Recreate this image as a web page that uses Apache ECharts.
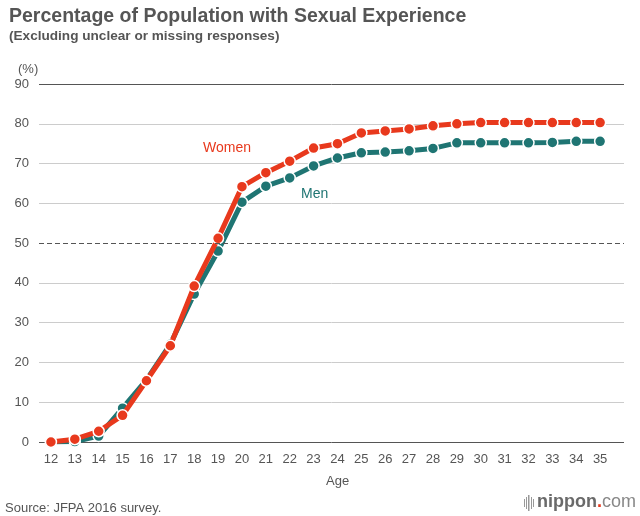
<!DOCTYPE html>
<html>
<head>
<meta charset="utf-8">
<script src="https://cdn.jsdelivr.net/npm/echarts@6/dist/echarts.min.js"></script>
<style>
html,body{margin:0;padding:0;background:#fff;}
#chart{width:640px;height:516px;}
</style>
</head>
<body>
<div id="chart"></div>
<script>
const ages = [12,13,14,15,16,17,18,19,20,21,22,23,24,25,26,27,28,29,30,31,32,33,34,35];
const women = [0,0.7,2.7,6.7,15.4,24.2,39.2,51.2,64.2,67.7,70.6,73.9,75.0,77.7,78.2,78.7,79.5,80.0,80.3,80.3,80.3,80.3,80.3,80.3];
const men = [0,0.1,1.5,8.5,15.6,24.6,37.2,48.0,60.3,64.3,66.4,69.4,71.4,72.7,72.9,73.2,73.8,75.2,75.2,75.2,75.2,75.3,75.6,75.6];
const yTicks = [0,10,20,30,40,50,60,70,80,90];

const RED = '#e8391d';
const TEAL = '#1f7573';
const GRAY = '#555555';
const FONT = '"Liberation Sans", Arial, Helvetica, sans-serif';

const chart = echarts.init(document.getElementById('chart'));
const pairs = arr => ages.map((a, i) => [a, arr[i]]);

chart.setOption({
  animation: false,
  backgroundColor: '#fff',
  textStyle: { fontFamily: FONT },
  title: {
    text: 'Percentage of Population with Sexual Experience',
    subtext: '(Excluding unclear or missing responses)',
    left: 4, top: 2, itemGap: 2,
    textStyle: { fontFamily: FONT, fontSize: 19.5, fontWeight: 'bold', color: GRAY },
    subtextStyle: { fontFamily: FONT, fontSize: 13.6, fontWeight: 'bold', color: GRAY }
  },
  grid: { left: 39, right: 16, top: 84, bottom: 74, containLabel: false },
  xAxis: {
    type: 'value', min: 11.5, max: 36,
    axisLine: { show: false }, axisTick: { show: false },
    splitLine: { show: false },
    axisLabel: { customValues: ages, color: GRAY, fontSize: 13, margin: 11, fontFamily: FONT }
  },
  yAxis: {
    type: 'value', min: 0, max: 90, interval: 10,
    axisLine: { show: false }, axisTick: { show: false },
    axisLabel: { color: GRAY, fontSize: 13, margin: 10, fontFamily: FONT },
    splitLine: {
      show: true,
      lineStyle: {
        width: 1,
        color: yTicks.map(v => (v === 0 || v === 90) ? GRAY : (v === 50 ? 'rgba(0,0,0,0)' : '#cccccc'))
      }
    }
  },
  series: [
    {
      name: 'Men', type: 'line', data: pairs(men),
      symbol: 'circle', symbolSize: 11,
      lineStyle: { color: TEAL, width: 5 },
      itemStyle: { color: TEAL, borderColor: '#fff', borderWidth: 1.5 },
      z: 3,
      markLine: {
        silent: true, symbol: 'none', label: { show: false },
        lineStyle: { color: GRAY, type: [5, 3], width: 1 },
        data: [{ yAxis: 50 }]
      }
    },
    {
      name: 'Women', type: 'line', data: pairs(women),
      symbol: 'circle', symbolSize: 11,
      lineStyle: { color: RED, width: 5 },
      itemStyle: { color: RED, borderColor: '#fff', borderWidth: 1.5 },
      z: 4
    }
  ],
  graphic: [
    { type: 'text', left: 18, top: 63, style: { text: '(%)', fill: GRAY, font: '13px ' + FONT } },
    { type: 'text', left: 326, top: 475, style: { text: 'Age', fill: GRAY, font: '13px ' + FONT } },
    { type: 'text', left: 203, top: 141, style: { text: 'Women', fill: RED, font: '14px ' + FONT } },
    { type: 'text', left: 301, top: 187, style: { text: 'Men', fill: TEAL, font: '14px ' + FONT } },
    { type: 'text', left: 5, top: 502, style: { text: 'Source: JFPA 2016 survey.', fill: GRAY, font: '13px ' + FONT } },
    { type: 'rect', shape: { x: 524, y: 499, width: 1, height: 8 }, style: { fill: '#999' } },
    { type: 'rect', shape: { x: 526, y: 497, width: 1, height: 12 }, style: { fill: '#999' } },
    { type: 'rect', shape: { x: 528, y: 495, width: 1.5, height: 16 }, style: { fill: '#999' } },
    { type: 'rect', shape: { x: 531, y: 497, width: 1, height: 12 }, style: { fill: '#999' } },
    { type: 'rect', shape: { x: 533, y: 499, width: 1, height: 8 }, style: { fill: '#999' } },
    {
      type: 'text', left: 537, top: 493,
      style: {
        rich: {
          a: { fontFamily: FONT, fontSize: 18, fontWeight: 'bold', fill: '#6a6a6a' },
          b: { fontFamily: FONT, fontSize: 18, fontWeight: 'bold', fill: '#e8391d' },
          c: { fontFamily: FONT, fontSize: 18, fill: '#888' }
        },
        text: '{a|nippon}{b|.}{c|com}'
      }
    }
  ]
});
</script>
</body>
</html>
